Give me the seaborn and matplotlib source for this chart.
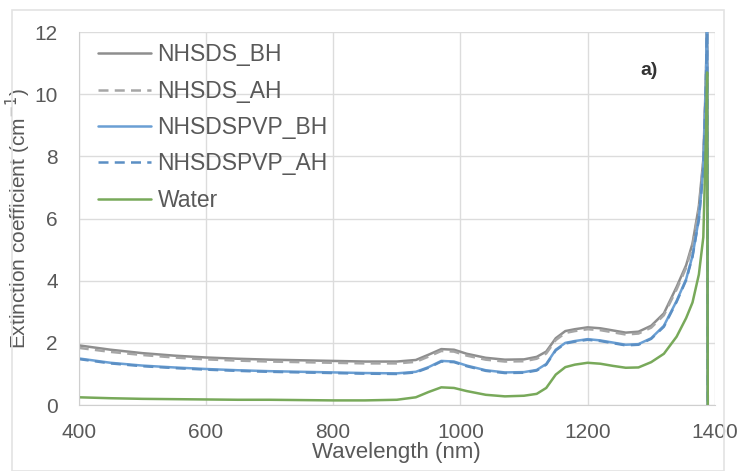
import numpy as np
import pandas as pd
import matplotlib
matplotlib.use("Agg")
import matplotlib.pyplot as plt
from matplotlib.patches import Rectangle
import seaborn as sns

# wavelength grid (nm)
wavelength = [400, 450, 500, 550, 600, 650, 700, 750, 800, 850, 900, 930, 950, 970, 990,
              1010, 1040, 1070, 1100, 1120, 1135, 1150, 1165, 1180, 1200, 1220, 1240, 1260,
              1280, 1300, 1320, 1340, 1355, 1365, 1375, 1382, 1386, 1388, 1389]

nhsds_bh = [1.92, 1.78, 1.67, 1.59, 1.53, 1.49, 1.46, 1.44, 1.42, 1.40, 1.40, 1.45, 1.62, 1.80, 1.78,
            1.65, 1.52, 1.46, 1.47, 1.55, 1.72, 2.15, 2.38, 2.44, 2.50, 2.47, 2.40, 2.33,
            2.36, 2.55, 2.95, 3.80, 4.50, 5.20, 6.40, 7.90, 10.5, 12.5, 0.0]
nhsds_ah = [1.84, 1.71, 1.61, 1.53, 1.47, 1.43, 1.40, 1.38, 1.36, 1.34, 1.34, 1.39, 1.56, 1.74, 1.72,
            1.59, 1.46, 1.40, 1.41, 1.49, 1.66, 2.09, 2.32, 2.38, 2.44, 2.41, 2.34, 2.27,
            2.30, 2.49, 2.89, 3.72, 4.42, 5.12, 6.30, 7.80, 10.4, 12.5, 0.0]
pvp_bh = [1.50, 1.36, 1.27, 1.21, 1.16, 1.12, 1.09, 1.07, 1.05, 1.03, 1.02, 1.07, 1.22, 1.42, 1.40,
          1.27, 1.12, 1.05, 1.06, 1.13, 1.32, 1.78, 2.00, 2.06, 2.12, 2.08, 2.01, 1.94,
          1.96, 2.15, 2.55, 3.35, 4.05, 4.80, 6.00, 7.60, 10.3, 12.5, 0.0]
pvp_ah = [1.48, 1.34, 1.25, 1.19, 1.14, 1.10, 1.07, 1.05, 1.03, 1.01, 1.00, 1.05, 1.20, 1.40, 1.38,
          1.25, 1.10, 1.03, 1.04, 1.11, 1.30, 1.76, 1.98, 2.04, 2.10, 2.06, 1.99, 1.92,
          1.94, 2.13, 2.52, 3.32, 4.02, 4.77, 5.97, 7.55, 10.2, 12.5, 0.0]
water = [0.25, 0.22, 0.20, 0.19, 0.18, 0.17, 0.17, 0.16, 0.15, 0.15, 0.17, 0.25, 0.42, 0.57, 0.55,
         0.45, 0.33, 0.28, 0.30, 0.36, 0.55, 0.98, 1.22, 1.30, 1.36, 1.33, 1.26, 1.20,
         1.21, 1.38, 1.65, 2.20, 2.80, 3.30, 4.20, 5.40, 8.50, 10.7, 0.0]

series = {
    "NHSDS_BH": nhsds_bh,
    "NHSDS_AH": nhsds_ah,
    "NHSDSPVP_BH": pvp_bh,
    "NHSDSPVP_AH": pvp_ah,
    "Water": water,
}
df = pd.concat([pd.DataFrame({"wl": wavelength, "val": v, "sample": k}) for k, v in series.items()])

colors = {"NHSDS_BH": "#8e8e8e", "NHSDS_AH": "#a6a6a6", "NHSDSPVP_BH": "#6a9fd4",
          "NHSDSPVP_AH": "#5b8fc4", "Water": "#78a95a"}
dashes = {"NHSDS_BH": "", "NHSDS_AH": (4, 2.5), "NHSDSPVP_BH": "",
          "NHSDSPVP_AH": (4, 2.5), "Water": ""}

sns.set_style("whitegrid")
plt.rcParams["font.family"] = ["Liberation Sans", "DejaVu Sans"]
plt.rcParams["text.color"] = "#595959"

fig = plt.figure(figsize=(7.43, 4.71), dpi=100)
ax = fig.add_axes([0.106, 0.140, 0.856, 0.792])
fig.patches.append(Rectangle((0.016, 0.0), 0.958, 0.978, transform=fig.transFigure,
                             fill=False, edgecolor="#e3e3e3", linewidth=1.2))

sns.lineplot(data=df, x="wl", y="val", hue="sample", style="sample", palette=colors,
             dashes=dashes, linewidth=1.8, sort=False, estimator=None, ax=ax)

ax.set_xlim(400, 1400)
ax.set_ylim(0, 12)
ax.set_xticks(range(400, 1401, 200))
ax.set_yticks(range(0, 13, 2))
ax.tick_params(labelsize=15, colors="#595959", length=0)
ax.tick_params(axis="y", pad=15)
ax.tick_params(axis="x", pad=13)
ax.grid(True, color="#dcdcdc", linewidth=1)
for s in ["top", "right"]:
    ax.spines[s].set_visible(False)
for s in ["left", "bottom"]:
    ax.spines[s].set_color("#cfcfcf")
ax.set_xlabel("Wavelength (nm)", fontsize=16, color="#595959", labelpad=0)
ax.set_ylabel("Extinction coefficient (cm$^{-1}$)", fontsize=15, color="#595959", labelpad=1)

ax.legend(loc="upper left", bbox_to_anchor=(0.012, 1.0), frameon=False, fontsize=16.5,
          handlelength=2.3, labelspacing=0.58, handletextpad=0.3, borderaxespad=0.1,
          borderpad=0.4)
ax.text(0.883, 0.898, "a)", transform=ax.transAxes, fontsize=14, fontweight="bold",
        color="#333333", va="center")

fig.savefig("out.png", dpi=100)
